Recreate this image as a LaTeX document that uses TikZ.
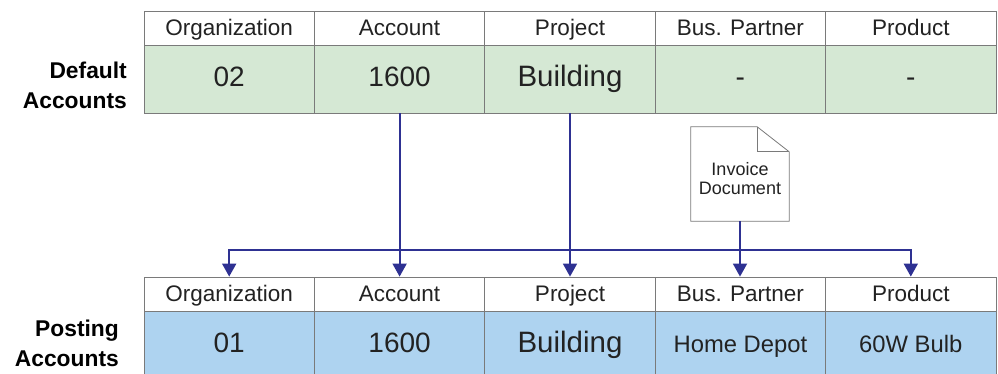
\documentclass[tikz,border=0pt]{standalone}
\usepackage{fontspec}
\setmainfont{Liberation Sans}
\usetikzlibrary{arrows.meta}
\definecolor{cgreen}{HTML}{D5E8D4}
\definecolor{cblue}{HTML}{AED3F0}
\definecolor{cgrid}{HTML}{7A7A7A}
\definecolor{carrow}{HTML}{2E3192}
\definecolor{ctext}{HTML}{222222}
\begin{document}
\begin{tikzpicture}[x=1pt,y=-1pt,
  cell/.style={draw=cgrid, line width=0.8pt, minimum width=170.4pt, inner sep=0pt,
    text=ctext, anchor=center},
  hdr/.style={cell, fill=white, minimum height=34pt, text height=20pt, text depth=4.5pt,
    font=\fontsize{22.5}{26}\selectfont},
  gval/.style={cell, fill=cgreen, minimum height=68pt, text height=22pt, text depth=7.6pt,
    font=\fontsize{28}{32}\selectfont},
  bval/.style={cell, fill=cblue, minimum height=68pt, text height=22pt, text depth=7.6pt,
    font=\fontsize{28}{32}\selectfont},
  big/.style={font=\fontsize{29.5}{33}\selectfont},
  bsmall/.style={bval, text height=20pt, text depth=6pt, font=\fontsize{23.8}{28}\selectfont},
  lab/.style={anchor=east, align=right, inner sep=0pt, text=black,
    font=\bfseries\fontsize{22.8}{30}\selectfont},
  docline/.style={draw=cgrid, line width=0.8pt, fill=white},
  doctext/.style={align=center, inner sep=0pt, text=ctext,
    font=\fontsize{18}{19}\selectfont},
  arr/.style={draw=carrow, line width=1.8pt, -{Triangle[width=14pt,length=13pt]}}
]
\useasboundingbox (0,0) rectangle (998,374);
\clip (0,0) rectangle (998,374);

% top table
\node[hdr] (th1) at (229.2,28) {Organization};
\node[hdr] (th2) at (399.6,28) {Account};
\node[hdr] (th3) at (570.0,28) {Project};
\node[hdr] (th4) at (740.4,28) {Bus. Partner};
\node[hdr] (th5) at (910.8,28) {Product};
\node[gval] (td1) at (229.2,79) {02};
\node[gval] (td2) at (399.6,79) {1600};
\node[gval,big] (td3) at (570.0,79) {Building};
\node[gval] (td4) at (740.4,79) {-};
\node[gval] (td5) at (910.8,79) {-};

% bottom table
\node[hdr] (bh1) at (229.2,294) {Organization};
\node[hdr] (bh2) at (399.6,294) {Account};
\node[hdr] (bh3) at (570.0,294) {Project};
\node[hdr] (bh4) at (740.4,294) {Bus. Partner};
\node[hdr] (bh5) at (910.8,294) {Product};
\node[bval] (bd1) at (229.2,345) {01};
\node[bval] (bd2) at (399.6,345) {1600};
\node[bval,big] (bd3) at (570.0,345) {Building};
\node[bsmall] (bd4) at (740.4,345) {Home Depot};
\node[bsmall] (bd5) at (910.8,345) {60W Bulb};

% row labels
\node[lab] (ldef) at (127,85) {Default\\Accounts};
\node[lab] (lpost) at (119,343) {Posting\\Accounts};

% document
\node[minimum width=98pt, minimum height=94pt, inner sep=0pt] (doc) at (740,174) {};
\draw[docline] (doc.north west) -- ([xshift=-32pt]doc.north east)
  -- ([yshift=-25pt]doc.north east) -- (doc.south east) -- (doc.south west) -- cycle;
\draw[docline, fill=none] ([xshift=-32pt]doc.north east) -- ([xshift=-32pt,yshift=-25pt]doc.north east)
  -- ([yshift=-25pt]doc.north east);
\node[doctext] (doctxt) at (740,179) {Invoice\\Document};

% connectors
\coordinate (hub) at (399.6,250);
\draw[arr] (td2.south) -- (bh2.north);
\draw[arr] (td3.south) -- (bh3.north);
\draw[arr] (doc.south) -- (doc.south |- bh4.north);
\draw[arr] (hub) -| (bh1.north);
\draw[arr] (hub) -| (bh5.north);
\end{tikzpicture}
\end{document}
